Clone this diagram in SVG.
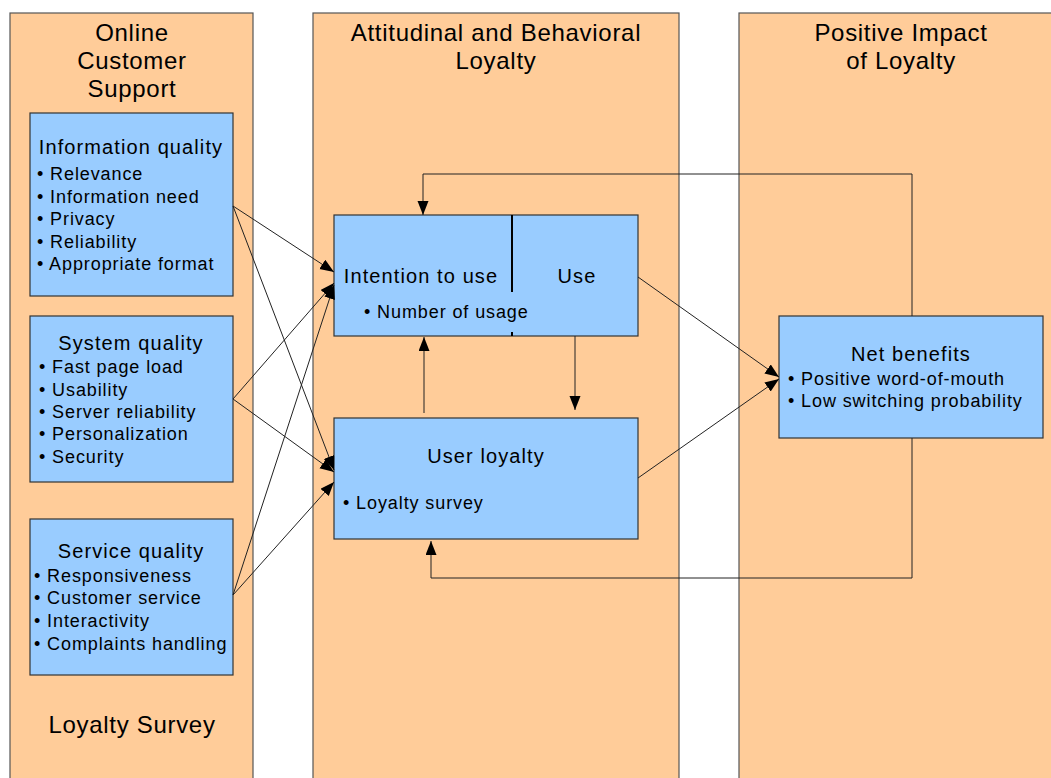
<svg xmlns="http://www.w3.org/2000/svg" width="1051" height="778" viewBox="0 0 1051 778">
<style>
.col{fill:#FFCC99;stroke:#555;stroke-width:1.2}
.box{fill:#99CCFF;stroke:#333;stroke-width:1.2}
text{font-family:"Liberation Sans",Arial,sans-serif;fill:#000}
.hd{font-size:24px;letter-spacing:0.7px;text-anchor:middle}
.tt{font-size:20px;letter-spacing:1.1px;text-anchor:middle}
.bl{font-size:18px;letter-spacing:0.9px}
.cn{fill:none;stroke:#222;stroke-width:1}
</style>
<defs>
<marker id="ah" markerUnits="userSpaceOnUse" markerWidth="16" markerHeight="14" refX="14" refY="5.5" orient="auto">
<path d="M0,0 L14,5.5 L0,11 z" fill="#000"/>
</marker>
</defs>
<rect width="1051" height="778" fill="#fff"/>
<g id="col-online">
<rect class="col" x="10" y="13" width="243" height="780"/>
<text class="hd" x="132" y="41">Online</text>
<text class="hd" x="132" y="69">Customer</text>
<text class="hd" x="132" y="97">Support</text>
<text class="hd" x="132" y="733">Loyalty Survey</text>
</g>
<g id="col-attitudinal">
<rect class="col" x="313" y="13" width="366" height="780"/>
<text class="hd" x="496" y="41">Attitudinal and Behavioral</text>
<text class="hd" x="496" y="69">Loyalty</text>
</g>
<g id="col-impact">
<rect class="col" x="739" y="13" width="330" height="780"/>
<text class="hd" x="901" y="41">Positive Impact</text>
<text class="hd" x="901" y="69">of Loyalty</text>
</g>
<g id="info-quality">
<rect class="box" x="30" y="113" width="203" height="183"/>
<text class="tt" x="131" y="154">Information quality</text>
<text class="bl" x="37" y="180">• Relevance</text>
<text class="bl" x="37" y="203">• Information need</text>
<text class="bl" x="37" y="225">• Privacy</text>
<text class="bl" x="37" y="248">• Reliability</text>
<text class="bl" x="37" y="270">• Appropriate format</text>
</g>
<g id="system-quality">
<rect class="box" x="30" y="316" width="203" height="166"/>
<text class="tt" x="131" y="350">System quality</text>
<text class="bl" x="39" y="373">• Fast page load</text>
<text class="bl" x="39" y="396">• Usability</text>
<text class="bl" x="39" y="418">• Server reliability</text>
<text class="bl" x="39" y="440">• Personalization</text>
<text class="bl" x="39" y="463">• Security</text>
</g>
<g id="service-quality">
<rect class="box" x="30" y="519" width="203" height="156"/>
<text class="tt" x="131" y="558">Service quality</text>
<text class="bl" x="34" y="582">• Responsiveness</text>
<text class="bl" x="34" y="604">• Customer service</text>
<text class="bl" x="34" y="627">• Interactivity</text>
<text class="bl" x="34" y="650">• Complaints handling</text>
</g>
<g id="intention-use">
<rect class="box" x="334" y="215" width="304" height="121"/>
<line x1="512" y1="215" x2="512" y2="292" stroke="#000" stroke-width="2"/>
<line x1="512" y1="332" x2="512" y2="336" stroke="#000" stroke-width="2"/>
<text class="tt" x="421" y="283">Intention to use</text>
<text class="tt" x="577" y="283">Use</text>
<text class="bl" x="364" y="318">• Number of usage</text>
</g>
<g id="user-loyalty">
<rect class="box" x="334" y="418" width="304" height="121"/>
<text class="tt" x="486" y="463">User loyalty</text>
<text class="bl" x="343" y="509">• Loyalty survey</text>
</g>
<g id="net-benefits">
<rect class="box" x="779" y="316" width="264" height="122"/>
<text class="tt" x="911" y="361">Net benefits</text>
<text class="bl" x="788" y="385">• Positive word-of-mouth</text>
<text class="bl" x="788" y="407">• Low switching probability</text>
</g>
<g id="connectors">
<path class="cn" d="M233,206 L334,272" marker-end="url(#ah)"/>
<path class="cn" d="M233,206 L334,470" marker-end="url(#ah)"/>
<path class="cn" d="M233,399 L334,283" marker-end="url(#ah)"/>
<path class="cn" d="M233,399 L334,472" marker-end="url(#ah)"/>
<path class="cn" d="M233,595 L334,285" marker-end="url(#ah)"/>
<path class="cn" d="M233,595 L334,482" marker-end="url(#ah)"/>
<path class="cn" d="M424,413 L424,337" marker-end="url(#ah)"/>
<path class="cn" d="M575,336 L575,410" marker-end="url(#ah)"/>
<path class="cn" d="M638,277 L779,377" marker-end="url(#ah)"/>
<path class="cn" d="M638,478 L779,379" marker-end="url(#ah)"/>
<path class="cn" d="M912,316 V174 H423 V215" marker-end="url(#ah)"/>
<path class="cn" d="M912,438 V578 H431 V541" marker-end="url(#ah)"/>
</g>
</svg>
